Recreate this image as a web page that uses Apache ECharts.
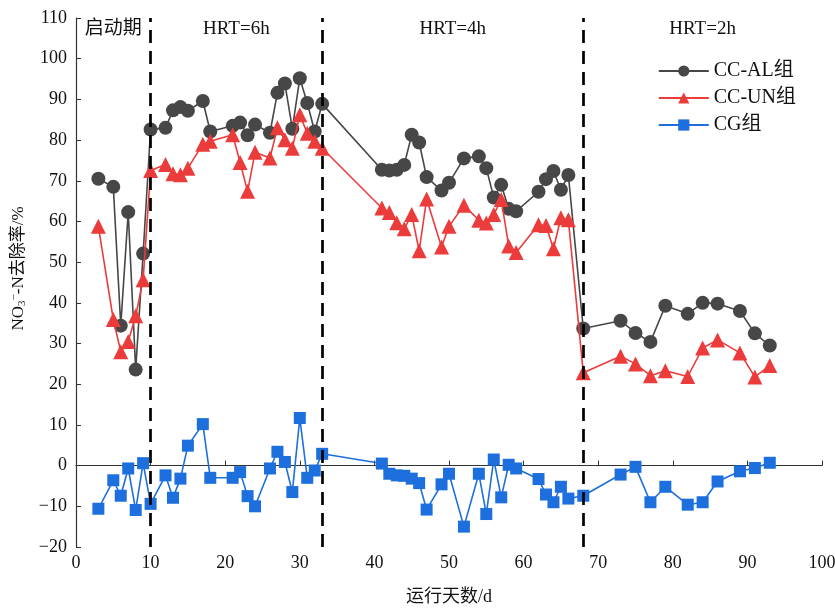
<!DOCTYPE html>
<html>
<head>
<meta charset="utf-8">
<script src="https://cdn.jsdelivr.net/npm/echarts@6/dist/echarts.min.js"></script>
<style>
  html, body { margin: 0; padding: 0; background: #fff; }
  #container { width: 835px; height: 608px; }
</style>
</head>
<body>
<div id="container"></div>
<script>
// 运行天数
var alDays = [3, 5, 6, 7, 8, 9, 10, 12, 13, 14, 15, 17, 18, 21, 22, 23, 24, 26, 27, 28, 29, 30, 31, 32, 33,
    41, 42, 43, 44, 45, 46, 47, 49, 50, 52, 54, 55, 56, 57, 58, 59, 62, 63, 64, 65, 66,
    68, 73, 75, 77, 79, 82, 84, 86, 89, 91, 93];
// CC-AL组
var alValues = [70.5, 68.5, 34.4, 62.3, 23.6, 52.1, 82.6, 83, 87.3, 88.1, 87.2, 89.6, 82.1, 83.5, 84.3, 81.2, 83.8, 81.8, 91.6, 93.9, 82.8, 95.2, 89.1, 82.1, 88.9,
    72.7, 72.5, 72.7, 73.9, 81.3, 79.4, 70.9, 67.6, 69.5, 75.5, 76, 73.1, 65.9, 69, 63.1, 62.5, 67.3, 70.4, 72.4, 67.8, 71.4,
    33.7, 35.6, 32.6, 30.4, 39.3, 37.3, 40, 39.8, 38, 32.5, 29.5];
// CC-UN组
var unValues = [58.8, 35.9, 28, 30.5, 36.8, 45.7, 72.5, 74, 71.7, 71.5, 73.1, 79, 79.7, 81.3, 74.5, 67.4, 77, 75.6, 83, 80.1, 78, 86.2, 81.7, 79.7, 78,
    63.3, 62.2, 59.7, 58.2, 61.7, 52.8, 65.5, 53.7, 58.8, 64, 60.3, 59.6, 61.7, 65.4, 54, 52.4, 59.2, 59, 53.3, 60.9, 60.4,
    22.8, 26.9, 25, 22.1, 23.3, 21.9, 28.9, 30.9, 27.7, 21.8, 24.6];
// CG组
var cgValues = [-10.6, -3.6, -7.4, -0.7, -10.9, 0.6, -9.4, -2.4, -7.9, -3.2, 4.9, 10.2, -3, -3, -1.6, -7.5, -10, -0.7, 3.4, 0.9, -6.5, 11.7, -3, -1.2, 2.9,
    0.5, -2, -2.4, -2.5, -3.2, -4.3, -10.8, -4.6, -2, -15, -2, -11.9, 1.5, -7.8, 0.2, -0.7, -3.3, -7.1, -9, -5.2, -8.1,
    -7.4, -2.2, -0.3, -9, -5.2, -9.6, -9, -3.9, -1.4, -0.6, 0.7];

// 阶段分界
var phaseBounds = [10, 33, 68];
var phaseNames = ["启动期", "HRT=6h", "HRT=4h", "HRT=2h"];
var phaseRanges = [[0, 10], [10, 33], [33, 68], [68, 100]];

function pairs(xs, ys) {
    var r = [];
    for (var i = 0; i < xs.length; i++) {
        r.push([xs[i], ys[i]]);
    }
    return r;
}

function minusFmt(v) {
    return String(v).replace("-", "\u2212");
}

var fontFamily = "'Liberation Serif', 'Noto Sans CJK SC', serif";

var myChart = echarts.init(document.getElementById("container"));

var areas = phaseRanges.map(function(r, i) {
    return [{ xAxis: r[0], name: phaseNames[i] }, { xAxis: r[1] }];
});

myChart.setOption({
    animation: false,
    textStyle: { fontFamily: fontFamily },
    grid: { left: 76, right: 13, top: 18, bottom: 61, outerBoundsMode: "none", containLabel: false },
    legend: {
        right: 34,
        top: 56,
        orient: "vertical",
        itemWidth: 50,
        itemHeight: 14,
        itemGap: 7,
        textStyle: { fontSize: 20, color: "#111", fontFamily: fontFamily },
        data: ["CC-AL组", "CC-UN组", "CG组"]
    },
    xAxis: {
        type: "value",
        min: 0,
        max: 100,
        interval: 10,
        name: "运行天数/d",
        nameLocation: "middle",
        nameGap: 41,
        nameTextStyle: { fontSize: 18, color: "#111" },
        axisLine: { lineStyle: { color: "#333", width: 1.2 } },
        axisTick: { inside: true, length: 5, lineStyle: { color: "#333" } },
        axisLabel: { fontSize: 18, color: "#111", margin: 7 },
        splitLine: { show: false }
    },
    yAxis: {
        type: "value",
        min: -20,
        max: 110,
        interval: 10,
        name: "NO{sub|3}{sup|−}-N去除率/%",
        nameLocation: "middle",
        nameGap: 42,
        nameTextStyle: {
            fontSize: 17,
            color: "#111",
            padding: [0, 0, 0, 28],
            rich: {
                sub: { fontSize: 11, verticalAlign: "bottom", padding: [8, 0, 0, 0], color: "#111" },
                sup: { fontSize: 11, verticalAlign: "top", padding: [0, 0, 8, 0], color: "#111" }
            }
        },
        axisLine: { show: true, lineStyle: { color: "#333", width: 1.2 } },
        axisTick: { show: true, inside: true, length: 5, lineStyle: { color: "#333" } },
        axisLabel: { fontSize: 18, color: "#111", margin: 9, formatter: minusFmt },
        splitLine: { show: false }
    },
    series: [
        {
            name: "CC-AL组",
            type: "line",
            data: pairs(alDays, alValues),
            symbol: "circle",
            symbolSize: 14,
            itemStyle: { color: "#474747" },
            lineStyle: { color: "#474747", width: 1.6 },
            z: 3
        },
        {
            name: "CC-UN组",
            type: "line",
            data: pairs(alDays, unValues),
            symbol: "triangle",
            symbolSize: 15,
            itemStyle: { color: "#ec3b3b" },
            lineStyle: { color: "#ec3b3b", width: 1.6 },
            z: 4
        },
        {
            name: "CG组",
            type: "line",
            data: pairs(alDays, cgValues),
            symbol: "rect",
            symbolSize: 12,
            itemStyle: { color: "#1c6fdc" },
            lineStyle: { color: "#1c6fdc", width: 1.6 },
            z: 4,
            markLine: {
                silent: true,
                symbol: "none",
                label: { show: false },
                lineStyle: { color: "#000", type: [13, 8], width: 2.7 },
                data: phaseBounds.map(function(b) { return { xAxis: b }; })
            },
            markArea: {
                silent: true,
                itemStyle: { color: "rgba(0,0,0,0)" },
                label: {
                    show: true,
                    position: "insideTop",
                    distance: 2,
                    fontSize: 19,
                    color: "#111",
                    fontFamily: fontFamily
                },
                data: areas
            }
        }
    ]
});
</script>
</body>
</html>
